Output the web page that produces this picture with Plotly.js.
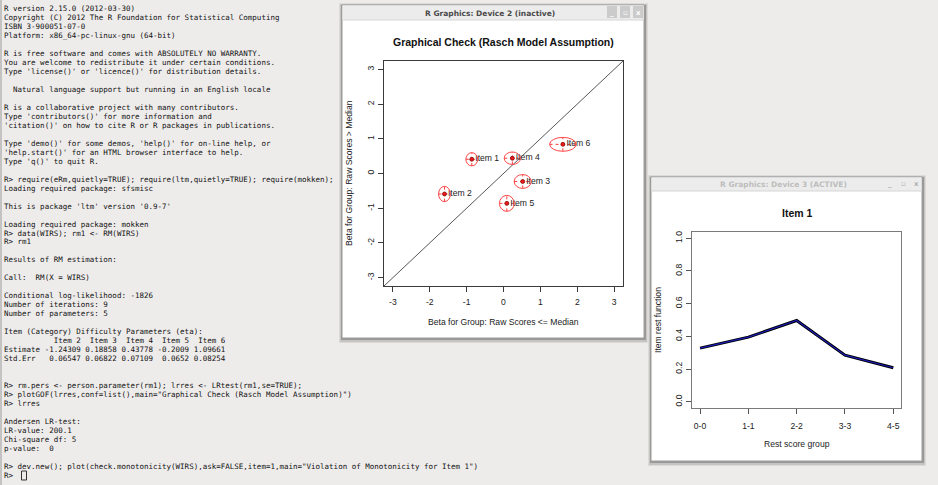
<!DOCTYPE html>
<html><head><meta charset="utf-8">
<script src="https://cdn.plot.ly/plotly-3.0.1.min.js"></script>
<style>html,body{margin:0;padding:0;background:#eeeceb;overflow:hidden}#chart{width:938px;height:485px}</style>
</head><body><div id="chart"></div>
<script>
// ---------- data ----------
const consoleLines = [
"R version 2.15.0 (2012-03-30)",
"Copyright (C) 2012 The R Foundation for Statistical Computing",
"ISBN 3-900051-07-0",
"Platform: x86_64-pc-linux-gnu (64-bit)",
"",
"R is free software and comes with ABSOLUTELY NO WARRANTY.",
"You are welcome to redistribute it under certain conditions.",
"Type 'license()' or 'licence()' for distribution details.",
"",
"  Natural language support but running in an English locale",
"",
"R is a collaborative project with many contributors.",
"Type 'contributors()' for more information and",
"'citation()' on how to cite R or R packages in publications.",
"",
"Type 'demo()' for some demos, 'help()' for on-line help, or",
"'help.start()' for an HTML browser interface to help.",
"Type 'q()' to quit R.",
"",
"R> require(eRm,quietly=TRUE); require(ltm,quietly=TRUE); require(mokken);",
"Loading required package: sfsmisc",
"",
"This is package 'ltm' version '0.9-7'",
"",
"Loading required package: mokken",
"R> data(WIRS); rm1 <- RM(WIRS)",
"R> rm1",
"",
"Results of RM estimation:",
"",
"Call:  RM(X = WIRS)",
"",
"Conditional log-likelihood: -1826",
"Number of iterations: 9",
"Number of parameters: 5",
"",
"Item (Category) Difficulty Parameters (eta):",
"           Item 2  Item 3  Item 4  Item 5  Item 6",
"Estimate -1.24309 0.18858 0.43778 -0.2009 1.09661",
"Std.Err   0.06547 0.06822 0.07109  0.0652 0.08254",
"",
"",
"R> rm.pers <- person.parameter(rm1); lrres <- LRtest(rm1,se=TRUE);",
"R> plotGOF(lrres,conf=list(),main=\"Graphical Check (Rasch Model Assumption)\")",
"R> lrres",
"",
"Andersen LR-test:",
"LR-value: 200.1",
"Chi-square df: 5",
"p-value:  0",
"",
"R> dev.new(); plot(check.monotonicity(WIRS),ask=FALSE,item=1,main=\"Violation of Monotonicity for Item 1\")",
"R> "
];

const items    = ['Item 1','Item 2','Item 3','Item 4','Item 5','Item 6'];
const betaLow  = [-0.86, -1.60, 0.52, 0.24, 0.09, 1.61];   // Raw Scores <= Median
const betaHigh = [ 0.41, -0.59, -0.23, 0.44, -0.86, 0.84]; // Raw Scores > Median
const ciLow    = [0.16, 0.16, 0.23, 0.22, 0.20, 0.36];     // half-width of CI (x)
const ciHigh   = [0.19, 0.22, 0.20, 0.18, 0.23, 0.20];     // half-width of CI (y)
const gofTicks = [-3,-2,-1,0,1,2,3];
const gofTickText = ['-3','-2','-1','0','1','2','3'];
const gofRange = [-3.24, 3.24];

const restGroups = ['0-0','1-1','2-2','3-3','4-5'];
const restValues = [0.328, 0.395, 0.497, 0.285, 0.208];
const restTicks = [0,0.2,0.4,0.6,0.8,1.0];
const restTickText = ['0.0','0.2','0.4','0.6','0.8','1.0'];

// ---------- helpers ----------
const W = 938, H = 485;
const X = px => px / W;
const Y = py => 1 - py / H;
const esc = s => s.replace(/&/g,'&amp;').replace(/</g,'&lt;').replace(/>/g,'&gt;').replace(/ /g,'\u00a0');
const SANS = 'Liberation Sans, Arial, sans-serif';

const shapes = [];
const annotations = [];
function rect(x0,y0,x1,y1,fill,line,lw,layer){
  shapes.push({type:'rect',xref:'paper',yref:'paper',x0:X(x0),x1:X(x1),y0:Y(y1),y1:Y(y0),
    fillcolor:fill,line:{color:line||'rgba(0,0,0,0)',width:lw||0},layer:layer||'below'});
}
function note(px,py,text,font,opts){
  annotations.push(Object.assign({xref:'paper',yref:'paper',x:X(px),y:Y(py),text:text,showarrow:false,
    font:font,xanchor:'center',yanchor:'middle'},opts||{}));
}

// console border
shapes.push({type:'line',xref:'paper',yref:'paper',x0:X(1),x1:X(1),y0:0,y1:1,line:{color:'#9a9a9a',width:1},layer:'below'});

// console text
consoleLines.forEach((ln,i)=>{
  if(!ln) return;
  note(3, 8.5 + i*8.98, esc(ln), {family:'DejaVu Sans Mono, monospace',size:7.5,color:'#111111'},
    {xanchor:'left',borderpad:0});
});
// cursor
rect(21.5,471,26.5,480,'rgba(0,0,0,0)','#333',1,'above');

// windows
function windowFrame(x0,y0,x1,y1,barH,title,active){
  rect(x0-3,y0-2,x1+4,y1+5,'rgba(0,0,0,0.07)');
  rect(x0-2,y0-1,x1+3,y1+4,'rgba(0,0,0,0.10)');
  rect(x0-1,y0,x1+2,y1+2,'rgba(0,0,0,0.22)');
  rect(x0,y0,x1,y1,'#ffffff','#9c9c9c',1);
  rect(x0+0.5,y0+0.5,x1-0.5,y0+barH,'#ececec');
  shapes.push({type:'line',xref:'paper',yref:'paper',x0:X(x0),x1:X(x1),y0:Y(y0+barH),y1:Y(y0+barH),
    line:{color:'#d6d6d6',width:1},layer:'below'});
  note((x0+x1)/2 - 3, y0+barH/2+0.5, title,
    {family:'DejaVu Sans, sans-serif',size:7.5,color:active?'#bdbdbd':'#4a4a4a',weight:'bold'});
  const glyphs = ['_','\u25ab','x'];
  for(let k=0;k<3;k++){
    const bx = x1 - 37 + k*13;
    if(!active) rect(bx, y0+1, bx+10, y0+barH-2, '#cbcbcb');
    note(bx+5, y0+barH/2, glyphs[k], {family:'DejaVu Sans, sans-serif',size:7,color:active?'#b0b0b0':'#ffffff',weight:'bold'});
  }
}
windowFrame(342,5,644,338,15,'R Graphics: Device 2 (inactive)',false);
windowFrame(651,177,922,461,14,'R Graphics: Device 3 (ACTIVE)',true);

// plot 1 texts
note(503, 42, 'Graphical Check (Rasch Model Assumption)', {family:SANS,size:10.5,color:'#111',weight:'bold'});
note(503, 322, esc('Beta for Group: Raw Scores <= Median'), {family:SANS,size:8.6,color:'#222'});
note(349, 173, esc('Beta for Group: Raw Scores > Median'), {family:SANS,size:8.6,color:'#222'}, {textangle:-90});
// plot 2 texts
note(797, 213, 'Item 1', {family:SANS,size:10.5,color:'#111',weight:'bold'});
note(797, 444, 'Rest score group', {family:SANS,size:8.6,color:'#222'});
note(658, 320, 'Item rest function', {family:SANS,size:8.6,color:'#222'}, {textangle:-90});

// diagonal line
shapes.push({type:'line',xref:'x',yref:'y',x0:gofRange[0],y0:gofRange[0],x1:gofRange[1],y1:gofRange[1],
  line:{color:'#444',width:0.9},layer:'above'});
// confidence ellipses
items.forEach((it,i)=>{
  shapes.push({type:'circle',xref:'x',yref:'y',
    x0:betaLow[i]-ciLow[i], x1:betaLow[i]+ciLow[i],
    y0:betaHigh[i]-ciHigh[i], y1:betaHigh[i]+ciHigh[i],
    line:{color:'rgb(255,70,70)',width:1},layer:'above'});
});

// ---------- traces ----------
const traces = [];
items.forEach((it,i)=>{
  traces.push({type:'scatter',mode:'lines',xaxis:'x',yaxis:'y',hoverinfo:'skip',showlegend:false,
    x:[betaLow[i]-ciLow[i], betaLow[i]+ciLow[i], null, betaLow[i], betaLow[i]],
    y:[betaHigh[i], betaHigh[i], null, betaHigh[i]-ciHigh[i], betaHigh[i]+ciHigh[i]],
    line:{color:'rgb(255,60,60)',width:1,dash:'dot'}});
});
traces.push({type:'scatter',mode:'markers+text',xaxis:'x',yaxis:'y',showlegend:false,
  x:betaLow, y:betaHigh, text:items, textposition:'middle right',
  textfont:{family:SANS,size:8.6,color:'#222'},
  marker:{size:4,color:'rgb(235,25,25)',line:{color:'#7a0000',width:0.7}}});

traces.push({type:'scatter',mode:'lines',xaxis:'x2',yaxis:'y2',showlegend:false,
  x:restGroups, y:restValues, line:{color:'#000000',width:3}});
traces.push({type:'scatter',mode:'lines',xaxis:'x2',yaxis:'y2',showlegend:false,
  x:restGroups, y:restValues, line:{color:'#1a1ab0',width:1.2}});

const tickFont = {family:SANS,size:8.6,color:'#222'};
const axBase = {showgrid:false,zeroline:false,showline:true,mirror:true,ticks:'outside',ticklen:5,
  tickwidth:1,fixedrange:true,tickfont:tickFont};

const layout = {
  width:W,height:H,margin:{l:0,r:0,t:0,b:0},
  paper_bgcolor:'#eeeceb',plot_bgcolor:'rgba(0,0,0,0)',
  showlegend:false,
  xaxis:Object.assign({},axBase,{domain:[X(384),X(623)],anchor:'y',range:gofRange,
    tickmode:'array',tickvals:gofTicks,ticktext:gofTickText,linecolor:'#3a3a3a',tickcolor:'#3a3a3a',ticklabelstandoff:3}),
  yaxis:Object.assign({},axBase,{domain:[Y(286),Y(61)],anchor:'x',range:gofRange,
    tickmode:'array',tickvals:gofTicks,ticktext:gofTickText,tickangle:-90,linecolor:'#3a3a3a',tickcolor:'#3a3a3a',ticklabelstandoff:1}),
  xaxis2:Object.assign({},axBase,{domain:[X(692.3),X(901)],anchor:'y2',type:'category',range:[-0.16,4.16],
    linecolor:'#7a7a7a',tickcolor:'#555',ticklabelstandoff:4}),
  yaxis2:Object.assign({},axBase,{domain:[Y(408.3),Y(231.7)],anchor:'x2',range:[-0.04,1.04],
    tickmode:'array',tickvals:restTicks,ticktext:restTickText,tickangle:-90,linecolor:'#7a7a7a',tickcolor:'#555',ticklabelstandoff:1}),
  shapes:shapes,
  annotations:annotations
};

Plotly.newPlot('chart',traces,layout,{displayModeBar:false,staticPlot:true});
</script>
</body></html>
